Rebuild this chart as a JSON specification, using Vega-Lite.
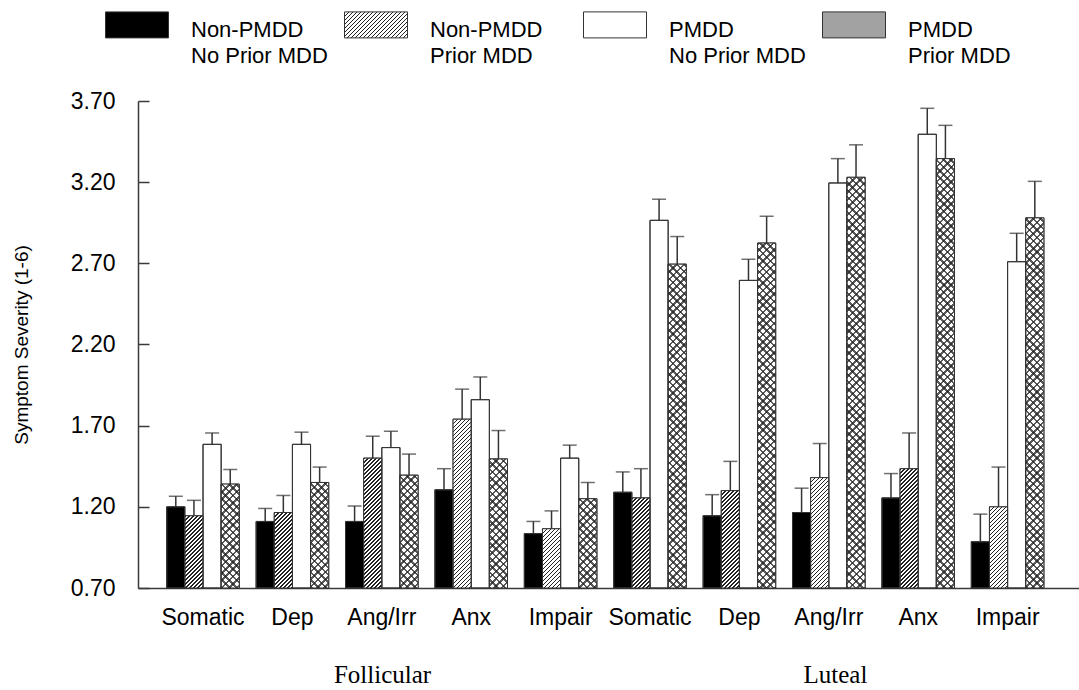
{
  "$schema": "https://vega.github.io/schema/vega-lite/v6.json",
  "width": 941,
  "height": 487,
  "autosize": {"type": "none"},
  "padding": {"left": 138, "top": 101, "right": 0, "bottom": 102},
  "config": {"view": {"stroke": null}, "font": "Liberation Sans"},
  "params": [
    {"name": "hatchStops", "value": [
      {"offset":0,"color":"#222"},{"offset":0.0056,"color":"#222"},{"offset":0.0056,"color":"transparent"},{"offset":0.016,"color":"transparent"},
      {"offset":0.016,"color":"#222"},{"offset":0.0216,"color":"#222"},{"offset":0.0216,"color":"transparent"},{"offset":0.032,"color":"transparent"},
      {"offset":0.032,"color":"#222"},{"offset":0.0376,"color":"#222"},{"offset":0.0376,"color":"transparent"},{"offset":0.048,"color":"transparent"},
      {"offset":0.048,"color":"#222"},{"offset":0.0536,"color":"#222"},{"offset":0.0536,"color":"transparent"},{"offset":0.064,"color":"transparent"},
      {"offset":0.064,"color":"#222"},{"offset":0.0696,"color":"#222"},{"offset":0.0696,"color":"transparent"},{"offset":0.08,"color":"transparent"},
      {"offset":0.08,"color":"#222"},{"offset":0.0856,"color":"#222"},{"offset":0.0856,"color":"transparent"},{"offset":0.096,"color":"transparent"},
      {"offset":0.096,"color":"#222"},{"offset":0.1016,"color":"#222"},{"offset":0.1016,"color":"transparent"},{"offset":0.112,"color":"transparent"},
      {"offset":0.112,"color":"#222"},{"offset":0.1176,"color":"#222"},{"offset":0.1176,"color":"transparent"},{"offset":0.128,"color":"transparent"},
      {"offset":0.128,"color":"#222"},{"offset":0.1336,"color":"#222"},{"offset":0.1336,"color":"transparent"},{"offset":0.144,"color":"transparent"},
      {"offset":0.144,"color":"#222"},{"offset":0.1496,"color":"#222"},{"offset":0.1496,"color":"transparent"},{"offset":0.16,"color":"transparent"},
      {"offset":0.16,"color":"#222"},{"offset":0.1656,"color":"#222"},{"offset":0.1656,"color":"transparent"},{"offset":0.176,"color":"transparent"},
      {"offset":0.176,"color":"#222"},{"offset":0.1816,"color":"#222"},{"offset":0.1816,"color":"transparent"},{"offset":0.192,"color":"transparent"},
      {"offset":0.192,"color":"#222"},{"offset":0.1976,"color":"#222"},{"offset":0.1976,"color":"transparent"},{"offset":0.208,"color":"transparent"},
      {"offset":0.208,"color":"#222"},{"offset":0.2136,"color":"#222"},{"offset":0.2136,"color":"transparent"},{"offset":0.224,"color":"transparent"},
      {"offset":0.224,"color":"#222"},{"offset":0.2296,"color":"#222"},{"offset":0.2296,"color":"transparent"},{"offset":0.24,"color":"transparent"},
      {"offset":0.24,"color":"#222"},{"offset":0.2456,"color":"#222"},{"offset":0.2456,"color":"transparent"},{"offset":0.256,"color":"transparent"},
      {"offset":0.256,"color":"#222"},{"offset":0.2616,"color":"#222"},{"offset":0.2616,"color":"transparent"},{"offset":0.272,"color":"transparent"},
      {"offset":0.272,"color":"#222"},{"offset":0.2776,"color":"#222"},{"offset":0.2776,"color":"transparent"},{"offset":0.288,"color":"transparent"},
      {"offset":0.288,"color":"#222"},{"offset":0.2936,"color":"#222"},{"offset":0.2936,"color":"transparent"},{"offset":0.304,"color":"transparent"},
      {"offset":0.304,"color":"#222"},{"offset":0.3096,"color":"#222"},{"offset":0.3096,"color":"transparent"},{"offset":0.32,"color":"transparent"},
      {"offset":0.32,"color":"#222"},{"offset":0.3256,"color":"#222"},{"offset":0.3256,"color":"transparent"},{"offset":0.336,"color":"transparent"},
      {"offset":0.336,"color":"#222"},{"offset":0.3416,"color":"#222"},{"offset":0.3416,"color":"transparent"},{"offset":0.352,"color":"transparent"},
      {"offset":0.352,"color":"#222"},{"offset":0.3576,"color":"#222"},{"offset":0.3576,"color":"transparent"},{"offset":0.368,"color":"transparent"},
      {"offset":0.368,"color":"#222"},{"offset":0.3736,"color":"#222"},{"offset":0.3736,"color":"transparent"},{"offset":0.384,"color":"transparent"},
      {"offset":0.384,"color":"#222"},{"offset":0.3896,"color":"#222"},{"offset":0.3896,"color":"transparent"},{"offset":0.4,"color":"transparent"},
      {"offset":0.4,"color":"#222"},{"offset":0.4056,"color":"#222"},{"offset":0.4056,"color":"transparent"},{"offset":0.416,"color":"transparent"},
      {"offset":0.416,"color":"#222"},{"offset":0.4216,"color":"#222"},{"offset":0.4216,"color":"transparent"},{"offset":0.432,"color":"transparent"},
      {"offset":0.432,"color":"#222"},{"offset":0.4376,"color":"#222"},{"offset":0.4376,"color":"transparent"},{"offset":0.448,"color":"transparent"},
      {"offset":0.448,"color":"#222"},{"offset":0.4536,"color":"#222"},{"offset":0.4536,"color":"transparent"},{"offset":0.464,"color":"transparent"},
      {"offset":0.464,"color":"#222"},{"offset":0.4696,"color":"#222"},{"offset":0.4696,"color":"transparent"},{"offset":0.48,"color":"transparent"},
      {"offset":0.48,"color":"#222"},{"offset":0.4856,"color":"#222"},{"offset":0.4856,"color":"transparent"},{"offset":0.496,"color":"transparent"},
      {"offset":0.496,"color":"#222"},{"offset":0.5016,"color":"#222"},{"offset":0.5016,"color":"transparent"},{"offset":0.512,"color":"transparent"},
      {"offset":0.512,"color":"#222"},{"offset":0.5176,"color":"#222"},{"offset":0.5176,"color":"transparent"},{"offset":0.528,"color":"transparent"},
      {"offset":0.528,"color":"#222"},{"offset":0.5336,"color":"#222"},{"offset":0.5336,"color":"transparent"},{"offset":0.544,"color":"transparent"},
      {"offset":0.544,"color":"#222"},{"offset":0.5496,"color":"#222"},{"offset":0.5496,"color":"transparent"},{"offset":0.56,"color":"transparent"},
      {"offset":0.56,"color":"#222"},{"offset":0.5656,"color":"#222"},{"offset":0.5656,"color":"transparent"},{"offset":0.576,"color":"transparent"},
      {"offset":0.576,"color":"#222"},{"offset":0.5816,"color":"#222"},{"offset":0.5816,"color":"transparent"},{"offset":0.592,"color":"transparent"},
      {"offset":0.592,"color":"#222"},{"offset":0.5976,"color":"#222"},{"offset":0.5976,"color":"transparent"},{"offset":0.608,"color":"transparent"},
      {"offset":0.608,"color":"#222"},{"offset":0.6136,"color":"#222"},{"offset":0.6136,"color":"transparent"},{"offset":0.624,"color":"transparent"},
      {"offset":0.624,"color":"#222"},{"offset":0.6296,"color":"#222"},{"offset":0.6296,"color":"transparent"},{"offset":0.64,"color":"transparent"},
      {"offset":0.64,"color":"#222"},{"offset":0.6456,"color":"#222"},{"offset":0.6456,"color":"transparent"},{"offset":0.656,"color":"transparent"},
      {"offset":0.656,"color":"#222"},{"offset":0.6616,"color":"#222"},{"offset":0.6616,"color":"transparent"},{"offset":0.672,"color":"transparent"},
      {"offset":0.672,"color":"#222"},{"offset":0.6776,"color":"#222"},{"offset":0.6776,"color":"transparent"},{"offset":0.688,"color":"transparent"},
      {"offset":0.688,"color":"#222"},{"offset":0.6936,"color":"#222"},{"offset":0.6936,"color":"transparent"},{"offset":0.704,"color":"transparent"},
      {"offset":0.704,"color":"#222"},{"offset":0.7096,"color":"#222"},{"offset":0.7096,"color":"transparent"},{"offset":0.72,"color":"transparent"},
      {"offset":0.72,"color":"#222"},{"offset":0.7256,"color":"#222"},{"offset":0.7256,"color":"transparent"},{"offset":0.736,"color":"transparent"},
      {"offset":0.736,"color":"#222"},{"offset":0.7416,"color":"#222"},{"offset":0.7416,"color":"transparent"},{"offset":0.752,"color":"transparent"},
      {"offset":0.752,"color":"#222"},{"offset":0.7576,"color":"#222"},{"offset":0.7576,"color":"transparent"},{"offset":0.768,"color":"transparent"},
      {"offset":0.768,"color":"#222"},{"offset":0.7736,"color":"#222"},{"offset":0.7736,"color":"transparent"},{"offset":0.784,"color":"transparent"},
      {"offset":0.784,"color":"#222"},{"offset":0.7896,"color":"#222"},{"offset":0.7896,"color":"transparent"},{"offset":0.8,"color":"transparent"},
      {"offset":0.8,"color":"#222"},{"offset":0.8056,"color":"#222"},{"offset":0.8056,"color":"transparent"},{"offset":0.816,"color":"transparent"},
      {"offset":0.816,"color":"#222"},{"offset":0.8216,"color":"#222"},{"offset":0.8216,"color":"transparent"},{"offset":0.832,"color":"transparent"},
      {"offset":0.832,"color":"#222"},{"offset":0.8376,"color":"#222"},{"offset":0.8376,"color":"transparent"},{"offset":0.848,"color":"transparent"},
      {"offset":0.848,"color":"#222"},{"offset":0.8536,"color":"#222"},{"offset":0.8536,"color":"transparent"},{"offset":0.864,"color":"transparent"},
      {"offset":0.864,"color":"#222"},{"offset":0.8696,"color":"#222"},{"offset":0.8696,"color":"transparent"},{"offset":0.88,"color":"transparent"},
      {"offset":0.88,"color":"#222"},{"offset":0.8856,"color":"#222"},{"offset":0.8856,"color":"transparent"},{"offset":0.896,"color":"transparent"},
      {"offset":0.896,"color":"#222"},{"offset":0.9016,"color":"#222"},{"offset":0.9016,"color":"transparent"},{"offset":0.912,"color":"transparent"},
      {"offset":0.912,"color":"#222"},{"offset":0.9176,"color":"#222"},{"offset":0.9176,"color":"transparent"},{"offset":0.928,"color":"transparent"},
      {"offset":0.928,"color":"#222"},{"offset":0.9336,"color":"#222"},{"offset":0.9336,"color":"transparent"},{"offset":0.944,"color":"transparent"},
      {"offset":0.944,"color":"#222"},{"offset":0.9496,"color":"#222"},{"offset":0.9496,"color":"transparent"},{"offset":0.96,"color":"transparent"},
      {"offset":0.96,"color":"#222"},{"offset":0.9656,"color":"#222"},{"offset":0.9656,"color":"transparent"},{"offset":0.976,"color":"transparent"},
      {"offset":0.976,"color":"#222"},{"offset":0.9816,"color":"#222"},{"offset":0.9816,"color":"transparent"},{"offset":0.992,"color":"transparent"},
      {"offset":0.992,"color":"#222"},{"offset":0.9976,"color":"#222"},{"offset":0.9976,"color":"transparent"},{"offset":1,"color":"transparent"}
    ]}
  ],
  "data": {"values": [
    {"phase": "Follicular", "key": "F|Somatic", "group": "Non-PMDD|No Prior MDD", "mean": 1.20, "upper": 1.265},
    {"phase": "Follicular", "key": "F|Somatic", "group": "Non-PMDD|Prior MDD", "mean": 1.145, "upper": 1.24},
    {"phase": "Follicular", "key": "F|Somatic", "group": "PMDD|No Prior MDD", "mean": 1.585, "upper": 1.655},
    {"phase": "Follicular", "key": "F|Somatic", "group": "PMDD|Prior MDD", "mean": 1.34, "upper": 1.43},
    {"phase": "Follicular", "key": "F|Dep", "group": "Non-PMDD|No Prior MDD", "mean": 1.11, "upper": 1.19},
    {"phase": "Follicular", "key": "F|Dep", "group": "Non-PMDD|Prior MDD", "mean": 1.165, "upper": 1.27},
    {"phase": "Follicular", "key": "F|Dep", "group": "PMDD|No Prior MDD", "mean": 1.585, "upper": 1.66},
    {"phase": "Follicular", "key": "F|Dep", "group": "PMDD|Prior MDD", "mean": 1.35, "upper": 1.445},
    {"phase": "Follicular", "key": "F|Ang/Irr", "group": "Non-PMDD|No Prior MDD", "mean": 1.11, "upper": 1.205},
    {"phase": "Follicular", "key": "F|Ang/Irr", "group": "Non-PMDD|Prior MDD", "mean": 1.50, "upper": 1.635},
    {"phase": "Follicular", "key": "F|Ang/Irr", "group": "PMDD|No Prior MDD", "mean": 1.565, "upper": 1.665},
    {"phase": "Follicular", "key": "F|Ang/Irr", "group": "PMDD|Prior MDD", "mean": 1.395, "upper": 1.525},
    {"phase": "Follicular", "key": "F|Anx", "group": "Non-PMDD|No Prior MDD", "mean": 1.305, "upper": 1.435},
    {"phase": "Follicular", "key": "F|Anx", "group": "Non-PMDD|Prior MDD", "mean": 1.74, "upper": 1.925},
    {"phase": "Follicular", "key": "F|Anx", "group": "PMDD|No Prior MDD", "mean": 1.86, "upper": 2.0},
    {"phase": "Follicular", "key": "F|Anx", "group": "PMDD|Prior MDD", "mean": 1.495, "upper": 1.67},
    {"phase": "Follicular", "key": "F|Impair", "group": "Non-PMDD|No Prior MDD", "mean": 1.035, "upper": 1.11},
    {"phase": "Follicular", "key": "F|Impair", "group": "Non-PMDD|Prior MDD", "mean": 1.065, "upper": 1.175},
    {"phase": "Follicular", "key": "F|Impair", "group": "PMDD|No Prior MDD", "mean": 1.50, "upper": 1.58},
    {"phase": "Follicular", "key": "F|Impair", "group": "PMDD|Prior MDD", "mean": 1.25, "upper": 1.35},
    {"phase": "Luteal", "key": "L|Somatic", "group": "Non-PMDD|No Prior MDD", "mean": 1.29, "upper": 1.415},
    {"phase": "Luteal", "key": "L|Somatic", "group": "Non-PMDD|Prior MDD", "mean": 1.255, "upper": 1.435},
    {"phase": "Luteal", "key": "L|Somatic", "group": "PMDD|No Prior MDD", "mean": 2.965, "upper": 3.095},
    {"phase": "Luteal", "key": "L|Somatic", "group": "PMDD|Prior MDD", "mean": 2.695, "upper": 2.865},
    {"phase": "Luteal", "key": "L|Dep", "group": "Non-PMDD|No Prior MDD", "mean": 1.145, "upper": 1.275},
    {"phase": "Luteal", "key": "L|Dep", "group": "Non-PMDD|Prior MDD", "mean": 1.30, "upper": 1.48},
    {"phase": "Luteal", "key": "L|Dep", "group": "PMDD|No Prior MDD", "mean": 2.595, "upper": 2.725},
    {"phase": "Luteal", "key": "L|Dep", "group": "PMDD|Prior MDD", "mean": 2.825, "upper": 2.99},
    {"phase": "Luteal", "key": "L|Ang/Irr", "group": "Non-PMDD|No Prior MDD", "mean": 1.165, "upper": 1.315},
    {"phase": "Luteal", "key": "L|Ang/Irr", "group": "Non-PMDD|Prior MDD", "mean": 1.38, "upper": 1.59},
    {"phase": "Luteal", "key": "L|Ang/Irr", "group": "PMDD|No Prior MDD", "mean": 3.195, "upper": 3.345},
    {"phase": "Luteal", "key": "L|Ang/Irr", "group": "PMDD|Prior MDD", "mean": 3.23, "upper": 3.43},
    {"phase": "Luteal", "key": "L|Anx", "group": "Non-PMDD|No Prior MDD", "mean": 1.255, "upper": 1.405},
    {"phase": "Luteal", "key": "L|Anx", "group": "Non-PMDD|Prior MDD", "mean": 1.435, "upper": 1.655},
    {"phase": "Luteal", "key": "L|Anx", "group": "PMDD|No Prior MDD", "mean": 3.495, "upper": 3.655},
    {"phase": "Luteal", "key": "L|Anx", "group": "PMDD|Prior MDD", "mean": 3.345, "upper": 3.55},
    {"phase": "Luteal", "key": "L|Impair", "group": "Non-PMDD|No Prior MDD", "mean": 0.985, "upper": 1.155},
    {"phase": "Luteal", "key": "L|Impair", "group": "Non-PMDD|Prior MDD", "mean": 1.20, "upper": 1.445},
    {"phase": "Luteal", "key": "L|Impair", "group": "PMDD|No Prior MDD", "mean": 2.71, "upper": 2.885},
    {"phase": "Luteal", "key": "L|Impair", "group": "PMDD|Prior MDD", "mean": 2.98, "upper": 3.205}
  ]},
  "layer": [
    {
      "encoding": {
        "x": {
          "field": "key", "type": "nominal", "sort": null,
          "scale": {"paddingInner": 0.188, "paddingOuter": 0.357, "align": 0.45},
          "axis": {
            "title": null, "labelExpr": "split(datum.label, '|')[1]", "labelAngle": 0,
            "ticks": false, "labelFontSize": 23, "labelColor": "#000", "labelPadding": 18,
            "domainColor": "#3a3a3a", "domainWidth": 1.5
          }
        },
        "xOffset": {
          "field": "group", "type": "nominal",
          "scale": {"domain": ["Non-PMDD|No Prior MDD", "Non-PMDD|Prior MDD", "PMDD|No Prior MDD", "PMDD|Prior MDD"], "paddingInner": 0, "paddingOuter": 0}
        },
        "y": {
          "field": "mean", "type": "quantitative",
          "scale": {"domain": [0.7, 3.7], "zero": false, "nice": false},
          "axis": {
            "title": "Symptom Severity (1-6)", "values": [0.7, 1.2, 1.7, 2.2, 2.7, 3.2, 3.7],
            "format": ".2f", "grid": false, "tickSize": -11, "tickColor": "#3a3a3a", "tickWidth": 1.5,
            "domainColor": "#3a3a3a", "domainWidth": 1.5, "labelFontSize": 23, "labelColor": "#000",
            "labelPadding": 34, "titleFontSize": 19, "titleFontWeight": "normal", "titleColor": "#000",
            "titlePadding": 39
          }
        }
      },
      "layer": [
        {
          "mark": {"type": "bar", "stroke": "#333", "strokeWidth": 1},
          "encoding": {
            "y2": {"datum": 0.7},
            "fill": {
              "field": "group", "type": "nominal",
              "scale": {
                "domain": ["Non-PMDD|No Prior MDD", "Non-PMDD|Prior MDD", "PMDD|No Prior MDD", "PMDD|Prior MDD"],
                "range": ["#000000", {"expr": "{gradient: 'linear', x1: 0, y1: 0, x2: 3.39, y2: 1.4, stops: hatchStops}"}, "#ffffff", "#a2a2a2"]
              },
              "legend": {
                "title": null, "orient": "none", "legendX": -33, "legendY": -113, "direction": "horizontal",
                "columns": 4, "columnPadding": 14, "gridAlign": "all", "padding": 0,
                "symbolType": "M-1,-0.257H1V0.568H-1Z", "symbolSize": 3969,
                "symbolStrokeColor": "#333", "symbolStrokeWidth": 1, "symbolOpacity": 1,
                "labelFontSize": 22, "labelColor": "#000", "labelOffset": 22, "labelLimit": 300,
                "labelBaseline": "top", "labelExpr": "split(datum.label, '|')",
                "encode": {"labels": {"update": {"lineHeight": {"value": 26}}}}
              }
            }
          }
        },
        {
          "transform": [{"filter": "datum.group == 'Non-PMDD|Prior MDD' || datum.group == 'PMDD|Prior MDD'"}],
          "mark": {"type": "bar", "strokeWidth": 0, "fill": "#ffffff"},
          "encoding": {"y2": {"datum": 0.7}}
        },
        {
          "transform": [{"filter": "datum.group == 'Non-PMDD|Prior MDD'"}],
          "mark": {
            "type": "bar", "strokeWidth": 0,
            "fill": {"expr": "{gradient: 'linear', x1: 0, y1: 0, x2: 250*18.15/(329.4+pow(scale('y',0.7)-scale('y',datum.mean),2)), y2: 250*(scale('y',0.7)-scale('y',datum.mean))/(329.4+pow(scale('y',0.7)-scale('y',datum.mean),2)), stops: hatchStops}"}
          },
          "encoding": {"y2": {"datum": 0.7}}
        },
        {
          "transform": [{"filter": "datum.group == 'PMDD|Prior MDD'"}],
          "mark": {
            "type": "bar", "strokeWidth": 0, "opacity": 0.75,
            "fill": {"expr": "{gradient: 'linear', x1: 0, y1: 0, x2: 460*18.15/(329.4+pow(scale('y',0.7)-scale('y',datum.mean),2)), y2: 460*(scale('y',0.7)-scale('y',datum.mean))/(329.4+pow(scale('y',0.7)-scale('y',datum.mean),2)), stops: hatchStops}"}
          },
          "encoding": {"y2": {"datum": 0.7}}
        },
        {
          "transform": [{"filter": "datum.group == 'PMDD|Prior MDD'"}],
          "mark": {
            "type": "bar", "strokeWidth": 0, "opacity": 0.75,
            "fill": {"expr": "{gradient: 'linear', x1: 0, y1: 1, x2: 460*18.15/(329.4+pow(scale('y',0.7)-scale('y',datum.mean),2)), y2: 1-460*(scale('y',0.7)-scale('y',datum.mean))/(329.4+pow(scale('y',0.7)-scale('y',datum.mean),2)), stops: hatchStops}"}
          },
          "encoding": {"y2": {"datum": 0.7}}
        },
        {
          "mark": {"type": "bar", "filled": false, "stroke": "#333", "strokeWidth": 1},
          "encoding": {"y2": {"datum": 0.7}}
        },
        {
          "mark": {"type": "rule", "color": "#333", "strokeWidth": 1.5},
          "encoding": {"y2": {"field": "upper"}}
        },
        {
          "mark": {"type": "tick", "orient": "horizontal", "color": "#333", "size": 14, "thickness": 1.5},
          "encoding": {"y": {"field": "upper", "type": "quantitative"}}
        }
      ]
    },
    {
      "mark": {"type": "text", "text": " ", "opacity": 0},
      "encoding": {
        "x": {
          "field": "phase", "type": "nominal",
          "scale": {"type": "point", "padding": 0.539},
          "axis": {
            "orient": "bottom", "title": null, "domain": false, "ticks": false, "labelAngle": 0,
            "labelFont": "Liberation Serif", "labelFontSize": 25, "labelColor": "#000", "labelPadding": 74
          }
        }
      }
    }
  ],
  "resolve": {"scale": {"x": "independent"}}
}
